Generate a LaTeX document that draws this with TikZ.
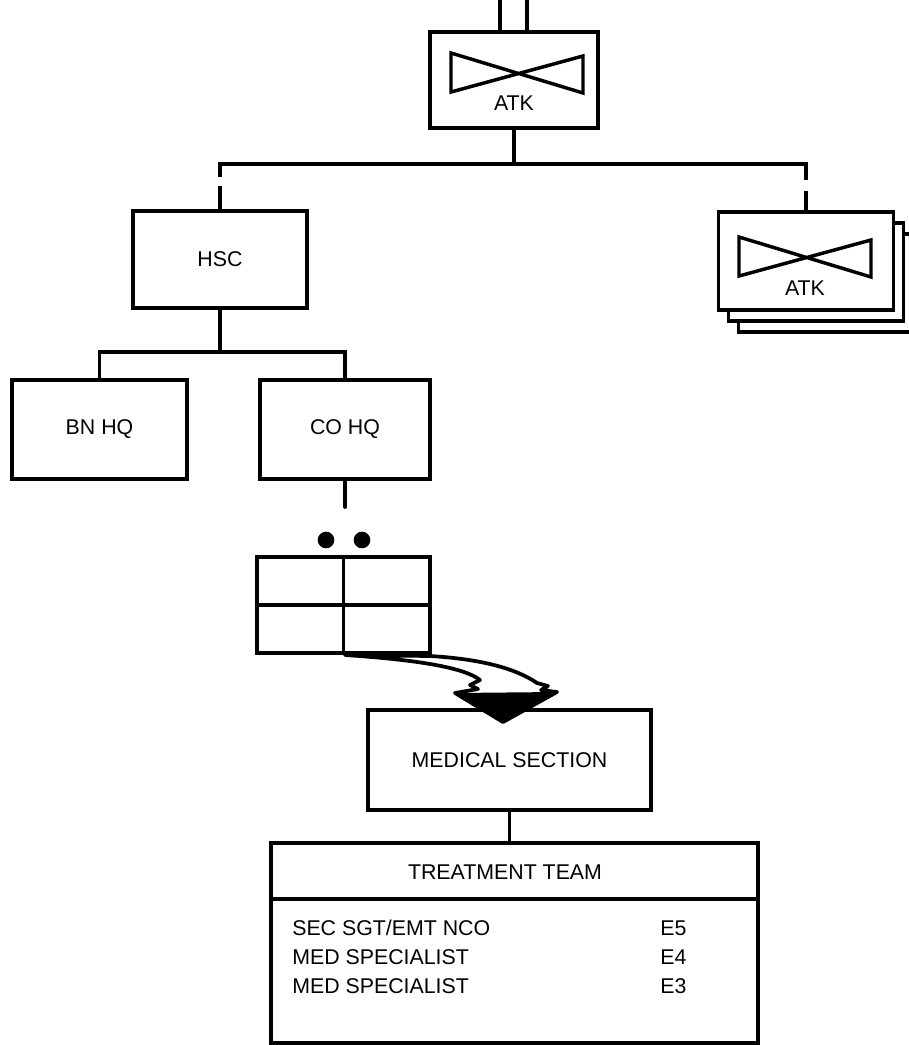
\documentclass[tikz,border=0pt]{standalone}
\usepackage{fontspec}
\setmainfont{Liberation Sans}
\usetikzlibrary{backgrounds}

\tikzset{
  orgbox/.style n args={2}{draw, fill=white, line width=2.9pt, inner sep=0pt, outer sep=0pt,
    minimum width=#1*0.75pt, minimum height=#2*0.75pt, font=\fontsize{16}{19}\selectfont},
  link/.style={line width=2.9pt, line cap=rect},
  txt/.style={inner sep=0pt, font=\fontsize{16}{19}\selectfont},
  dot/.style={circle, fill, inner sep=0pt, minimum size=12.5pt},
  atksym/.pic={\draw[line width=2.6pt] (-66,-21) -- (66,19) -- (66,-18) -- (-66,18) -- cycle;}
}

\begin{document}
\begin{tikzpicture}[x=0.75pt, y=-0.75pt]
  \useasboundingbox (0,0) rectangle (908,1045);

  % Top ATK
  \node[orgbox={168}{96}] (atk) at (514,80) {};
  \pic at (517,74) {atksym};
  \node[txt] (atklbl) at (514,103) {ATK};
  \coordinate (inA) at (500,0);
  \coordinate (inB) at (527,0);
  \draw[link, line cap=butt] (inA) -- (inA |- atk.north);
  \draw[link, line cap=butt] (inB) -- (inB |- atk.north);

  % Other ATK companies (stack)
  \node[orgbox={175}{98}] (atkR) at (806,261) {};
  \begin{scope}[on background layer]
    \draw[line width=2.9pt, fill=white] ([shift={(20,22)}]atkR.south west) rectangle ([shift={(20,22)}]atkR.north east);
    \draw[line width=2.9pt, fill=white] ([shift={(10,11)}]atkR.south west) rectangle ([shift={(10,11)}]atkR.north east);
  \end{scope}
  \pic at (805,258) {atksym};
  \node[txt] (atkRlbl) at (805,288) {ATK};

  % HSC
  \node[orgbox={174}{97}] (hsc) at (220,259.5) {HSC};

  % Bar under top ATK
  \coordinate (barL) at (220,164);
  \coordinate (barR) at (806,164);
  \draw[link] (barL) -- (barR);
  \draw[link] (atk.south) -- (atk.south |- barL);
  \draw[link, dash pattern=on 8.3pt off 9.65pt on 40pt] (barL) -- (hsc.north);
  \draw[link, dash pattern=on 10.55pt off 11.15pt on 40pt] (barR) -- (atkR.north);

  % BN HQ and CO HQ
  \node[orgbox={175}{99}] (bnhq) at (99.5,429.5) {BN HQ};
  \node[orgbox={170}{99}] (cohq) at (345,429.5) {CO HQ};
  \draw[link] (hsc.south) -- ++(0,44);
  \draw[link] (bnhq.north) -- ++(0,-28) -| (cohq.north);
  \coordinate (coend) at (345,507);
  \draw[link, line cap=round] (cohq.south) -- (coend);

  % Section symbol
  \node[dot] (dotA) at (326,540) {};
  \node[dot] (dotB) at (362,540) {};
  \node[orgbox={173}{96}] (grid) at (343.5,605) {};
  \draw[link, line cap=butt] (grid.north) -- (grid.south);
  \draw[link, line cap=butt] (grid.west) -- (grid.east);

  % Medical section
  \node[orgbox={283}{100}] (med) at (509.5,760) {MEDICAL SECTION};
  \node[orgbox={487}{200}] (team) at (514.5,943) {};
  \draw[link] (med.south) -- (med.south |- team.north);
  \coordinate (hdr) at (0,899);
  \draw[line width=2.9pt] (team.west |- hdr) -- (team.east |- hdr);
  \node[txt] (teamhdr) at (505,872) {TREATMENT TEAM};
  \node[txt, anchor=west] (rowA) at (292,928) {SEC SGT/EMT NCO};
  \node[txt, anchor=west] (rowB) at (292,957) {MED SPECIALIST};
  \node[txt, anchor=west] (rowC) at (292,986) {MED SPECIALIST};
  \node[txt, anchor=west] (gradeA) at (660,928) {E5};
  \node[txt, anchor=west] (gradeB) at (660,957) {E4};
  \node[txt, anchor=west] (gradeC) at (660,986) {E3};

  % Curved arrow into medical section
  \draw[line width=2.8pt, fill=white, line join=round]
    (345,655) .. controls (420,660) and (465,668) .. (480,680)
    -- (470,685) -- (478,689) -- (455,693) -- (503,722) -- (557,692)
    -- (541,690) -- (548,686) -- (537,683)
    .. controls (515,668) and (480,659) .. (430,656) -- cycle;
  \fill (455,693) -- (503,722) -- (557,692) -- cycle;
\end{tikzpicture}
\end{document}
